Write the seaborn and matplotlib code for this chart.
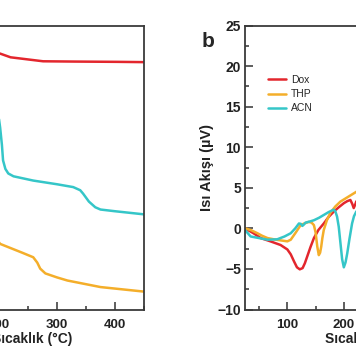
import matplotlib
matplotlib.use("Agg")
import matplotlib.pyplot as plt
from matplotlib.ticker import MultipleLocator
import seaborn as sns
import pandas as pd

sns.set_style("ticks")
plt.rcParams['font.family'] = ['Liberation Sans', 'DejaVu Sans']

solvents = ["Dox", "THP", "ACN"]
colors = {"Dox": "#e3262d", "THP": "#f4ae2a", "ACN": "#35c6c8"}

# TGA (left panel, mostly cropped) - temperature (C) / mass (%)
tga_dox_t = [25, 100, 160, 202, 220, 276, 330, 404, 450]
tga_dox_m = [99, 96, 92, 90.1, 88.8, 87.4, 87.3, 87.2, 87.1]
tga_thp_t = [25, 80, 140, 202, 240, 259, 266, 271, 280, 300, 318, 375, 450]
tga_thp_m = [99, 70, 40, 23.1, 20.0, 18.4, 16.5, 14.4, 12.7, 11.3, 10.2, 7.9, 6.3]
tga_acn_t = [25, 120, 180, 198, 202, 205, 207, 211, 216, 225, 259, 300, 328, 340, 345, 355, 366, 375, 400, 450]
tga_acn_m = [99, 90, 78, 70, 64, 58, 52.5, 49.5, 47.9, 46.9, 45.4, 44.1, 43.1, 42.0, 40.8, 38.0, 36.0, 35.2, 34.6, 33.5]

# DSC (right panel) - temperature (C) / heat flow (uV)
dsc_dox_t = [25, 40, 53, 70, 88, 100, 106, 112, 117, 122, 127, 131, 135, 141, 147, 155, 164.5, 173, 182, 191, 200, 206, 211.6, 215, 217.5, 220, 222, 240, 260]
dsc_dox_v = [0.0, -0.6, -1.2, -1.6, -2.05, -2.6, -3.2, -4.1, -4.8, -5.05, -4.9, -4.3, -3.5, -2.3, -1.2, -0.2, 0.6, 1.4, 2.05, 2.6, 3.1, 3.35, 3.5, 3.0, 2.5, 2.9, 3.3, 4.5, 5.5]
dsc_thp_t = [25, 35, 47, 55, 65, 80, 100, 106, 115, 123.5, 130, 138, 143, 147, 150, 153, 155.7, 158, 160, 162, 164.5, 170, 176, 185, 194, 208, 222, 240, 260]
dsc_thp_v = [0.0, -0.2, -0.6, -0.9, -1.2, -1.4, -1.6, -1.4, -0.5, 0.4, 0.6, 0.8, 0.7, 0.4, -0.5, -2.25, -3.3, -3.0, -2.25, -1.2, -0.2, 1.0, 1.9, 2.7, 3.3, 3.9, 4.5, 5.2, 5.8]
dsc_acn_t = [25, 35, 50, 65, 82, 95, 106, 114, 120.5, 124, 126.5, 129, 132, 140, 147, 156, 164.5, 173, 182, 185, 188, 191, 194, 197, 200, 203, 206, 210, 214.6, 218, 222, 240, 260]
dsc_acn_v = [-0.2, -1.0, -1.2, -1.4, -1.35, -1.0, -0.6, 0.0, 0.6, 0.55, 0.3, 0.45, 0.7, 0.85, 1.0, 1.3, 1.65, 2.0, 2.3, 2.1, 1.45, 0.2, -1.8, -3.8, -4.8, -4.2, -3.1, -1.3, 0.6, 1.5, 2.05, 3.5, 4.5]

tga = pd.concat([
    pd.DataFrame({"T": tga_dox_t, "m": tga_dox_m, "solvent": "Dox"}),
    pd.DataFrame({"T": tga_thp_t, "m": tga_thp_m, "solvent": "THP"}),
    pd.DataFrame({"T": tga_acn_t, "m": tga_acn_m, "solvent": "ACN"}),
])
dsc = pd.concat([
    pd.DataFrame({"T": dsc_dox_t, "q": dsc_dox_v, "solvent": "Dox"}),
    pd.DataFrame({"T": dsc_thp_t, "q": dsc_thp_v, "solvent": "THP"}),
    pd.DataFrame({"T": dsc_acn_t, "q": dsc_acn_v, "solvent": "ACN"}),
])

W, H = 356, 364
fig = plt.figure(figsize=(W / 100, H / 100), dpi=100)
fig.patch.set_facecolor("white")

bot = (H - 309.5) / H
hgt = (309.5 - 25.5) / H
ax1 = fig.add_axes([-102.5 / W, bot, 246.5 / W, hgt])
ax2 = fig.add_axes([245 / W, bot, 240 / W, hgt])

sns.lineplot(data=tga, x="T", y="m", hue="solvent", hue_order=solvents,
             palette=colors, sort=False, estimator=None, linewidth=1.8,
             ax=ax1, legend=False)
sns.lineplot(data=dsc, x="T", y="q", hue="solvent", hue_order=solvents,
             palette=colors, sort=False, estimator=None, linewidth=1.8,
             ax=ax2)

ax1.set_xlim(25, 450)
ax1.set_ylim(0, 100)
ax2.set_xlim(25, 450)
ax2.set_ylim(-10, 25)

for ax in (ax1, ax2):
    ax.xaxis.set_major_locator(MultipleLocator(100))
    ax.xaxis.set_minor_locator(MultipleLocator(50))
    ax.tick_params(which="both", direction="in", width=1.1, color="#333333",
                   labelsize=9.5)
    ax.tick_params(axis="x", pad=7)
    ax.tick_params(which="major", length=6)
    ax.tick_params(which="minor", length=3)
    for lbl in ax.get_xticklabels() + ax.get_yticklabels():
        lbl.set_fontweight("bold")
        lbl.set_color("#222222")
    for s in ax.spines.values():
        s.set_visible(True)
        s.set_linewidth(1.3)
        s.set_color("#3a3a3a")
    ax.set_xlabel("Sıcaklık (°C)", fontsize=10, fontweight="bold", color="#222222")

ax2.yaxis.set_major_locator(MultipleLocator(5))
ax2.yaxis.set_minor_locator(MultipleLocator(2.5))
ax2.tick_params(axis="y", pad=3, labelsize=10)
for lbl in ax2.get_yticklabels():
    lbl.set_fontweight("bold")
ax1.set_ylabel("")
ax2.set_ylabel("Isı Akışı (µV)", fontsize=10.5, fontweight="bold", color="#222222",
               labelpad=2)
ax1.xaxis.set_label_coords(0.545, -0.08)
ax2.xaxis.set_label_coords(0.5, -0.08)

handles, labels = ax2.get_legend_handles_labels()
ax2.legend(handles, labels, loc="upper left", frameon=False,
           bbox_to_anchor=(268.3 / W, 1 - 75 / H), bbox_transform=fig.transFigure,
           borderaxespad=0, borderpad=0, fontsize=7.5, handlelength=1.7,
           handletextpad=0.45, labelspacing=0.4)

fig.text(201.7 / W, 1 - 46.7 / H, "b", fontsize=15, fontweight="bold",
         ha="left", va="baseline")

fig.savefig("out.png", dpi=100, facecolor="white")
